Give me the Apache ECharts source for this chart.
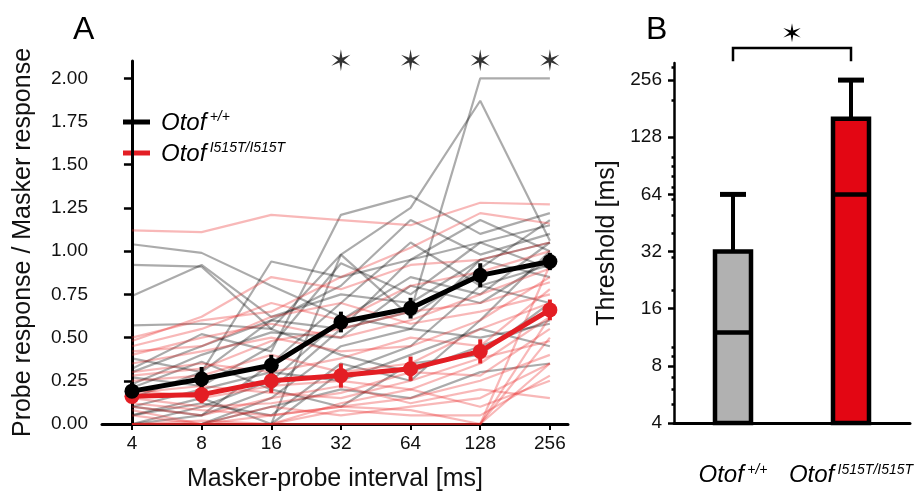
<!DOCTYPE html>
<html>
<head>
<meta charset="utf-8">
<script src="https://cdn.jsdelivr.net/npm/echarts@6/dist/echarts.min.js"></script>
<style>
html,body{margin:0;padding:0;background:#fff;}
#chart{width:917px;height:491px;}
</style>
</head>
<body>
<div id="chart"></div>
<script>
// masker-probe intervals (ms), one per x tick
const intervals = ['4', '8', '16', '32', '64', '128', '256'];
const wtMean = [0.19, 0.26, 0.34, 0.59, 0.67, 0.86, 0.94];
const wtErr = [0.05, 0.07, 0.06, 0.06, 0.06, 0.07, 0.05];
const mutMean = [0.16, 0.17, 0.25, 0.28, 0.32, 0.42, 0.66];
const mutErr = [0.04, 0.05, 0.07, 0.07, 0.07, 0.07, 0.06];
const sigIdx = [3, 4, 5, 6];
const yTicksA = [0, 0.25, 0.5, 0.75, 1, 1.25, 1.5, 1.75, 2];

// single animals, Otof +/+
const wtLines = [
  [1.04, 0.99, 0.80, 0.62, 0.55, 0.50, 0.58],
  [0.92, 0.91, 0.55, 0.40, 0.30, 0.45, 0.60],
  [0.74, 0.92, 0.62, 0.75, 0.70, 0.95, 1.05],
  [0.57, 0.58, 0.55, 0.98, 1.25, 1.87, 1.06],
  [0.32, 0.52, 0.42, 1.21, 1.32, 1.10, 1.22],
  [0.27, 0.22, 0.45, 0.93, 0.75, 1.05, 1.15],
  [0.21, 0.36, 0.20, 0.55, 0.65, 2.00, 2.00],
  [0.15, 0.30, 0.94, 0.85, 0.95, 1.18, 1.00],
  [0.10, 0.05, 0.35, 0.70, 1.05, 0.80, 0.92],
  [0.05, 0.15, 0.00, 0.98, 0.62, 0.90, 1.18],
  [0.00, 0.10, 0.25, 0.60, 0.85, 0.75, 1.05],
  [0.00, 0.00, 0.15, 0.45, 0.55, 0.95, 0.85],
  [0.00, 0.00, 0.00, 0.30, 0.45, 0.80, 0.70],
  [0.23, 0.40, 0.53, 0.50, 0.80, 0.70, 0.95],
  [0.10, 0.20, 0.30, 0.25, 0.40, 0.55, 0.45],
  [0.00, 0.00, 0.10, 0.20, 0.15, 0.30, 0.35],
  [0.38, 0.30, 0.60, 0.55, 0.95, 1.05, 0.90],
  [0.05, 0.12, 0.05, 0.35, 0.25, 0.60, 1.00],
  [0.30, 0.45, 0.60, 0.80, 1.18, 0.98, 1.10],
  [0.00, 0.05, 0.20, 0.10, 0.35, 0.40, 0.70]
];
// single animals, Otof I515T/I515T
const mutLines = [
  [1.12, 1.11, 1.21, 1.18, 1.15, 1.28, 1.27],
  [0.50, 0.60, 0.65, 0.85, 1.02, 1.22, 1.16],
  [0.48, 0.62, 0.85, 0.78, 0.92, 0.95, 1.05],
  [0.45, 0.55, 0.70, 0.60, 0.80, 0.88, 1.00],
  [0.40, 0.50, 0.58, 0.50, 0.60, 0.75, 0.90],
  [0.35, 0.42, 0.50, 0.42, 0.45, 0.60, 0.85],
  [0.30, 0.35, 0.30, 0.38, 0.50, 0.45, 0.78],
  [0.25, 0.28, 0.40, 0.30, 0.35, 0.55, 0.70],
  [0.20, 0.15, 0.22, 0.25, 0.20, 0.35, 0.62],
  [0.15, 0.10, 0.12, 0.18, 0.30, 0.28, 0.55],
  [0.12, 0.08, 0.05, 0.10, 0.15, 0.25, 0.40],
  [0.08, 0.00, 0.10, 0.05, 0.10, 0.15, 0.35],
  [0.00, 0.00, 0.00, 0.00, 0.00, 0.00, 0.92],
  [0.00, 0.00, 0.00, 0.00, 0.00, 0.00, 0.62],
  [0.00, 0.00, 0.00, 0.00, 0.00, 0.00, 0.35],
  [0.00, 0.00, 0.05, 0.10, 0.08, 0.00, 0.50],
  [0.05, 0.00, 0.00, 0.12, 0.20, 0.10, 0.25],
  [0.28, 0.32, 0.48, 0.55, 0.65, 0.70, 0.82],
  [0.18, 0.22, 0.18, 0.15, 0.25, 0.38, 0.48],
  [0.10, 0.05, 0.15, 0.22, 0.12, 0.20, 0.15],
  [0.42, 0.45, 0.62, 0.70, 0.58, 0.65, 0.75],
  [0.00, 0.02, 0.00, 0.08, 0.05, 0.05, 0.28]
];

// panel B, threshold [ms]
const groups = ['wt', 'mut'];
const thrLow = [4, 4];
const thrMedian = [12, 64];
const thrHigh = [32, 160];
const thrWhisker = [64, 256];
const thrTicks = [4, 8, 16, 32, 64, 128, 256];
const thrMinor = [5, 6, 7, 9, 10, 20, 30, 40, 50, 60, 70, 80, 90, 100, 200, 300];

const FONT = '"Liberation Sans", Arial, sans-serif';
const BLACK = '#000';
const RED = '#e31e24';

let chart = echarts.init(document.getElementById('chart'), null, {renderer: 'canvas'});

// six pointed asterisk used for the significance marks
function starPath() {
  let pts = [];
  for (let i = 0; i < 12; i++) {
    let a = (-90 + i * 30) * Math.PI / 180;
    let r = i % 2 === 0 ? 10 : 2.6;
    pts.push((r * Math.cos(a)).toFixed(2) + ' ' + (r * Math.sin(a)).toFixed(2));
  }
  return 'path://M' + pts.join(' L') + ' Z';
}
const STAR = starPath();

const supRich = {
  i: {fontFamily: FONT, fontStyle: 'italic', fontSize: 24, color: BLACK},
  s: {fontFamily: FONT, fontStyle: 'italic', fontSize: 14, color: BLACK, verticalAlign: 'top', padding: [0, 0, 11, 0]}
};

let series = [];
wtLines.forEach(function (line) {
  series.push({
    type: 'line', xAxisIndex: 0, yAxisIndex: 0, silent: true,
    data: line.map((v, i) => [i, v]),
    showSymbol: false, lineStyle: {color: 'rgba(0,0,0,0.33)', width: 2.2}, z: 1
  });
});
mutLines.forEach(function (line) {
  series.push({
    type: 'line', xAxisIndex: 0, yAxisIndex: 0, silent: true,
    data: line.map((v, i) => [i, v]),
    showSymbol: false, lineStyle: {color: 'rgba(235,40,40,0.33)', width: 2.2}, z: 1
  });
});

function errBars(mean, err, color) {
  return {
    type: 'custom', xAxisIndex: 0, yAxisIndex: 0, z: 4,
    data: mean.map((m, i) => [i, m, err[i]]),
    renderItem: function (params, api) {
      let x = api.value(0), m = api.value(1), e = api.value(2);
      let p1 = api.coord([x, m - e]);
      let p2 = api.coord([x, m + e]);
      return {
        type: 'line',
        shape: {x1: p1[0], y1: p1[1], x2: p2[0], y2: p2[1]},
        style: {stroke: color, lineWidth: 4}
      };
    }
  };
}

series.push(errBars(mutMean, mutErr, RED));
series.push({
  type: 'line', xAxisIndex: 0, yAxisIndex: 0, z: 5,
  data: mutMean.map((v, i) => [i, v]),
  symbol: 'circle', symbolSize: 15,
  itemStyle: {color: RED}, lineStyle: {color: RED, width: 5}
});
series.push(errBars(wtMean, wtErr, BLACK));
series.push({
  type: 'line', xAxisIndex: 0, yAxisIndex: 0, z: 6,
  data: wtMean.map((v, i) => [i, v]),
  symbol: 'circle', symbolSize: 15,
  itemStyle: {color: BLACK}, lineStyle: {color: BLACK, width: 5}
});
series.push({
  type: 'scatter', xAxisIndex: 0, yAxisIndex: 0, clip: false, z: 7,
  data: sigIdx.map(i => [i, 2.105]),
  symbol: STAR, symbolSize: [19, 22],
  itemStyle: {color: BLACK}
});

// panel B boxes
series.push({
  type: 'custom', xAxisIndex: 1, yAxisIndex: 1, z: 5,
  data: groups.map((g, i) => [i, thrLow[i], thrMedian[i], thrHigh[i], thrWhisker[i]]),
  renderItem: function (params, api) {
    let i = api.value(0);
    let lo = api.coord([i, api.value(1)]);
    let med = api.coord([i, api.value(2)]);
    let hi = api.coord([i, api.value(3)]);
    let wh = api.coord([i, api.value(4)]);
    let cx = lo[0], hw = 18, cap = 13;
    let fill = i === 0 ? '#b1b1b1' : '#e30613';
    return {
      type: 'group',
      children: [
        {type: 'line', shape: {x1: cx, y1: hi[1], x2: cx, y2: wh[1]}, style: {stroke: BLACK, lineWidth: 4}},
        {type: 'line', shape: {x1: cx - cap, y1: wh[1], x2: cx + cap, y2: wh[1]}, style: {stroke: BLACK, lineWidth: 5}},
        {type: 'rect', shape: {x: cx - hw, y: hi[1], width: hw * 2, height: lo[1] - hi[1]}, style: {fill: fill, stroke: BLACK, lineWidth: 4.5}},
        {type: 'line', shape: {x1: cx - hw, y1: med[1], x2: cx + hw, y2: med[1]}, style: {stroke: BLACK, lineWidth: 4.5}}
      ]
    };
  }
});
// significance bracket in panel B
series.push({
  type: 'custom', xAxisIndex: 1, yAxisIndex: 1, z: 5, clip: false,
  data: [[0, 1, 322, 378, 455]],
  renderItem: function (params, api) {
    let a = api.coord([api.value(0), api.value(2)]);
    let b = api.coord([api.value(1), api.value(2)]);
    let top = api.coord([0, api.value(3)])[1];
    let st = api.coord([0, api.value(4)])[1];
    let mx = (a[0] + b[0]) / 2;
    return {
      type: 'group',
      children: [
        {type: 'polyline', shape: {points: [[a[0], a[1]], [a[0], top], [b[0], top], [b[0], b[1]]]}, style: {stroke: BLACK, lineWidth: 2.5, fill: null}},
        {type: 'path', shape: {pathData: STAR.replace('path://', '')}, x: mx, y: st, scaleX: 1.0, scaleY: 0.95, style: {fill: BLACK}}
      ]
    };
  }
});

let axisTxt = {fontFamily: FONT, fontSize: 19, color: '#111'};
let nameTxt = {fontFamily: FONT, fontSize: 25, color: '#111'};

let option = {
  backgroundColor: '#fff',
  animation: false,
  grid: [
    {left: 102, right: 349, top: 61, bottom: 67, outerBoundsMode: 'none', containLabel: false},
    {left: 674, right: 7, top: 63, bottom: 68, outerBoundsMode: 'none', containLabel: false}
  ],
  xAxis: [
    {
      gridIndex: 0, type: 'value', min: -0.43, max: 6.26,
      name: 'Masker-probe interval [ms]', nameLocation: 'middle', nameGap: 43,
      nameTextStyle: nameTxt,
      axisLine: {lineStyle: {color: BLACK, width: 3}},
      axisTick: {length: 6, lineStyle: {color: BLACK, width: 2}, customValues: intervals.map((t, i) => i)},
      axisLabel: Object.assign({margin: 10, customValues: intervals.map((t, i) => i), formatter: v => intervals[Math.round(v)]}, axisTxt),
      splitLine: {show: false}
    },
    {
      gridIndex: 1, type: 'category', data: groups,
      axisLine: {lineStyle: {color: BLACK, width: 3}},
      axisTick: {alignWithLabel: true, length: 6, lineStyle: {color: BLACK, width: 2}},
      axisLabel: {
        margin: 40, interval: 0,
        formatter: v => v === 'wt' ? '{i|Otof} {s|+/+}' : '{i|Otof} {s|I515T/I515T}',
        rich: supRich
      },
      splitLine: {show: false}
    }
  ],
  yAxis: [
    {
      gridIndex: 0, type: 'value', min: 0, max: 2.1,
      name: 'Probe response / Masker response', nameLocation: 'middle', nameGap: 66,
      nameTextStyle: nameTxt,
      axisLine: {show: true, lineStyle: {color: BLACK, width: 3}},
      axisTick: {show: true, length: 8, lineStyle: {color: BLACK, width: 2.5}, customValues: yTicksA},
      axisLabel: Object.assign({margin: 14, customValues: yTicksA, formatter: v => v.toFixed(2)}, axisTxt),
      splitLine: {show: false}
    },
    {
      gridIndex: 1, type: 'log', logBase: 2, min: 4, max: 315, position: 'left',
      name: 'Threshold [ms]', nameLocation: 'middle', nameGap: 54,
      nameTextStyle: nameTxt,
      axisLine: {show: true, lineStyle: {color: BLACK, width: 2.5}},
      axisTick: {show: true, length: 6, lineStyle: {color: BLACK, width: 2.5}, customValues: thrTicks},
      axisLabel: Object.assign({margin: 12, customValues: thrTicks, formatter: v => String(Math.round(v))}, axisTxt),
      splitLine: {show: false}
    },
    {
      gridIndex: 1, type: 'log', logBase: 2, min: 4, max: 315, position: 'left', offset: 0,
      axisLine: {show: false},
      axisTick: {show: true, length: 2.5, lineStyle: {color: BLACK, width: 2.5}, customValues: thrMinor},
      axisLabel: {show: false},
      splitLine: {show: false}
    }
  ],
  graphic: [
    {type: 'text', left: 73, top: 14, style: {text: 'A', fontFamily: FONT, fontSize: 32, fill: BLACK}},
    {type: 'text', left: 646, top: 14, style: {text: 'B', fontFamily: FONT, fontSize: 32, fill: BLACK}},
    {type: 'line', shape: {x1: 123, y1: 122, x2: 150, y2: 122}, style: {stroke: BLACK, lineWidth: 5}},
    {type: 'line', shape: {x1: 123, y1: 153, x2: 150, y2: 153}, style: {stroke: RED, lineWidth: 5}},
    {type: 'text', x: 161, y: 123, style: {text: '{i|Otof} {s|+/+}', rich: supRich, verticalAlign: 'middle'}},
    {type: 'text', x: 161, y: 154, style: {text: '{i|Otof} {s|I515T/I515T}', rich: supRich, verticalAlign: 'middle'}}
  ],
  series: series
};
chart.setOption(option);
</script>
</body>
</html>
